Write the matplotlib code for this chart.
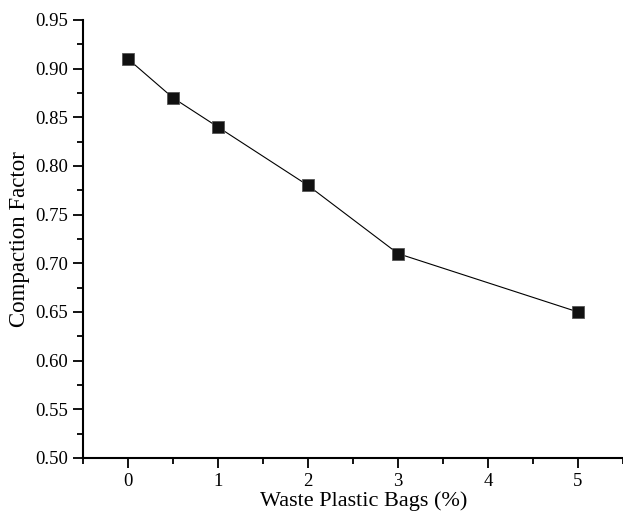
import numpy as np
import matplotlib.pyplot as plt
from matplotlib.ticker import MultipleLocator, FormatStrFormatter

# Дані
wpb = [0, 0.5, 1, 2, 3, 5]
cf = [0.91, 0.87, 0.84, 0.78, 0.71, 0.65]

plt.rcParams['font.family'] = ['Liberation Serif', 'DejaVu Serif']

fig = plt.figure(figsize=(6.23, 5.15), dpi=100)
ax = fig.add_axes([0.1332, 0.1107, 0.8668, 0.8505])

ax.plot(wpb, cf, color='black', linewidth=0.8, marker='s', markersize=8,
        markerfacecolor='#111111', markeredgecolor='#555555', markeredgewidth=0.6)

ax.set_xlim(-0.5, 5.5)
ax.set_ylim(0.50, 0.95)
ax.xaxis.set_major_locator(MultipleLocator(1))
ax.xaxis.set_minor_locator(MultipleLocator(0.5))
ax.yaxis.set_major_locator(MultipleLocator(0.05))
ax.yaxis.set_minor_locator(MultipleLocator(0.025))
ax.yaxis.set_major_formatter(FormatStrFormatter('%.2f'))

for s in ['top', 'right']:
    ax.spines[s].set_visible(False)
for s in ['left', 'bottom']:
    ax.spines[s].set_linewidth(1.5)

ax.tick_params(which='major', direction='out', length=7, width=1.3, labelsize=13.5)
ax.tick_params(which='minor', direction='out', length=4, width=1.3)

ax.set_xlabel('Waste Plastic Bags (%)', fontsize=16, labelpad=1)
ax.xaxis.label.set_x(0.52)
ax.set_ylabel('Compaction Factor', fontsize=16.5, labelpad=4)

fig.savefig('out.png', dpi=100)
